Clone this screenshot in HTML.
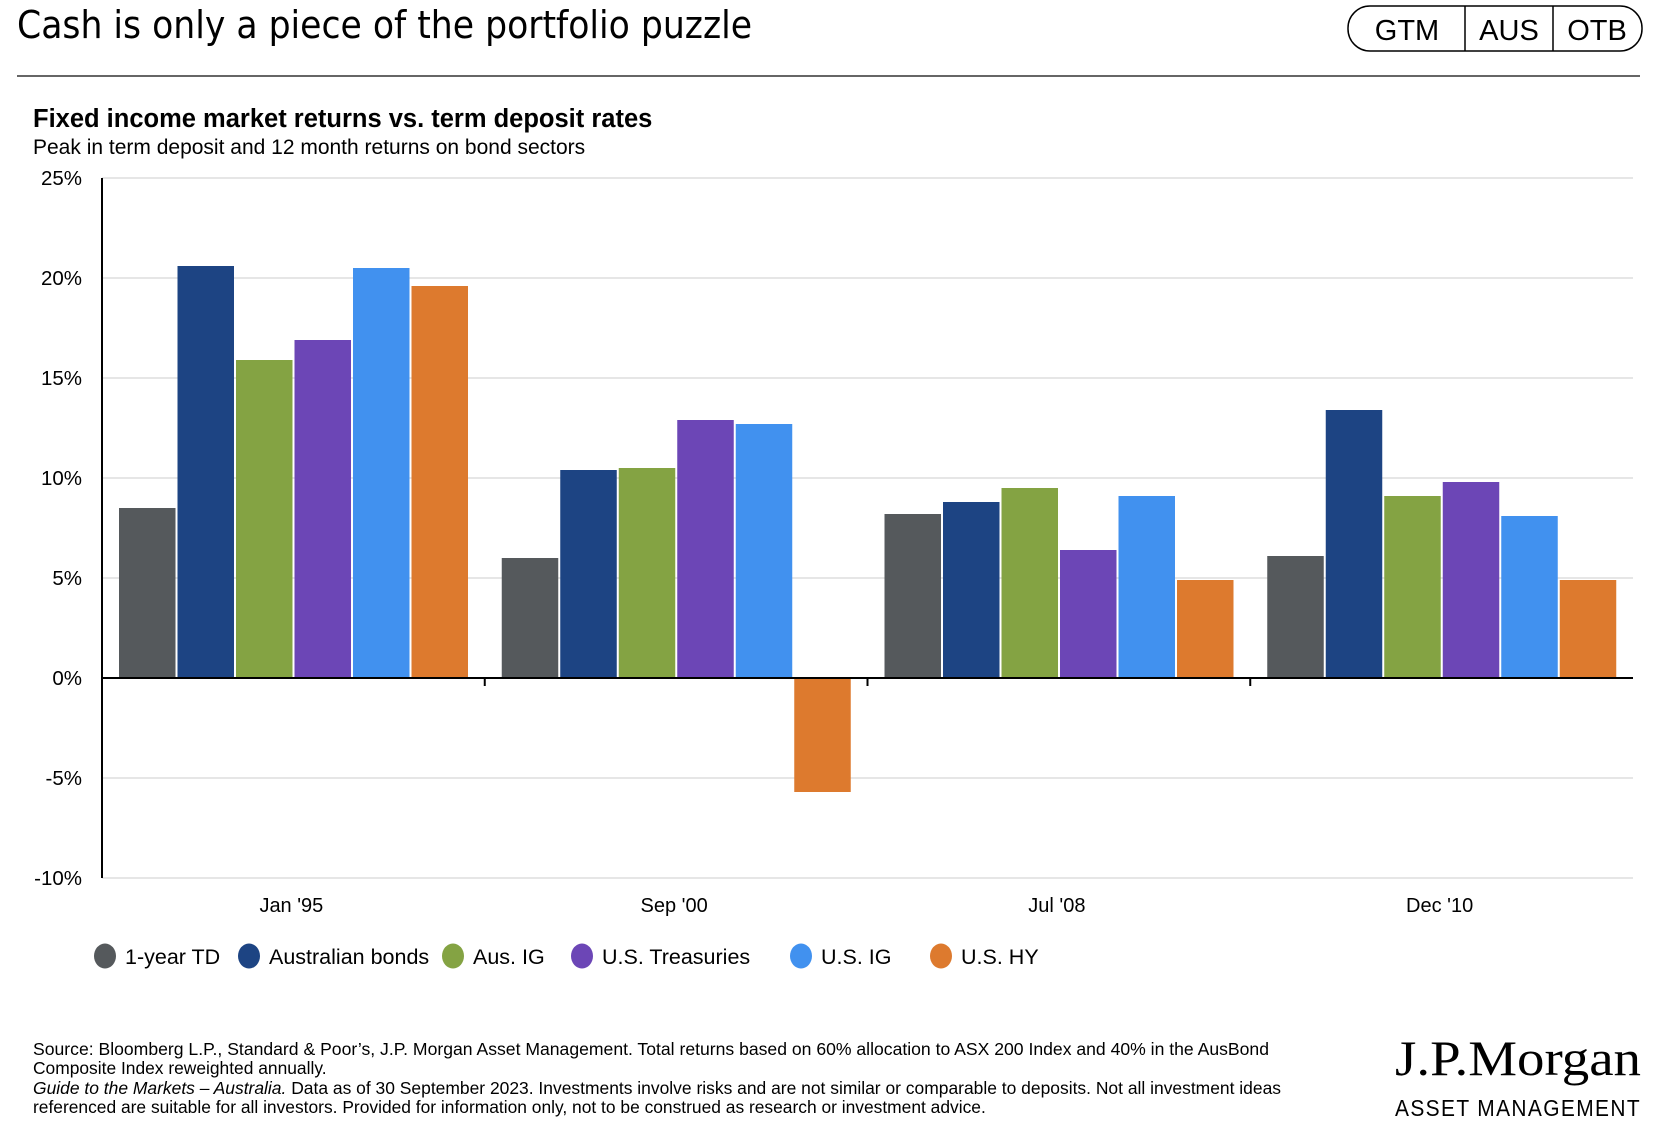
<!DOCTYPE html>
<html><head><meta charset="utf-8"><style>
body{margin:0;background:#fff;}
svg{display:block;font-family:"Liberation Sans",Arial,sans-serif;}
</style></head><body>
<svg id="chart" width="1666" height="1146" viewBox="0 0 1666 1146">
<text x="17" y="38" font-family="DejaVu Sans Condensed,DejaVu Sans,sans-serif" font-size="38.5" fill="#000">Cash is only a piece of the portfolio puzzle</text>
<g>
<rect x="1348" y="6" width="294" height="45" rx="22" fill="#fff" stroke="#000" stroke-width="1.5"/>
<line x1="1465" y1="6" x2="1465" y2="51" stroke="#000" stroke-width="1.5"/>
<line x1="1553" y1="6" x2="1553" y2="51" stroke="#000" stroke-width="1.5"/>
<text x="1407" y="40" text-anchor="middle" font-size="29">GTM</text>
<text x="1509" y="40" text-anchor="middle" font-size="29">AUS</text>
<text x="1597" y="40" text-anchor="middle" font-size="29">OTB</text>
</g>
<line x1="17" y1="76" x2="1640" y2="76" stroke="#666" stroke-width="2"/>
<text x="33" y="127" font-size="25.5" font-weight="bold">Fixed income market returns vs. term deposit rates</text>
<text x="33" y="154" font-size="21">Peak in term deposit and 12 month returns on bond sectors</text>
<g id="grid"></g><g id="bars"></g><g id="axes"></g><g id="legend"></g>
<g font-size="17.4" fill="#000">
<text x="33" y="1055" textLength="1236" lengthAdjust="spacingAndGlyphs">Source: Bloomberg L.P., Standard &amp; Poor’s, J.P. Morgan Asset Management. Total returns based on 60% allocation to ASX 200 Index and 40% in the AusBond</text>
<text x="33" y="1074">Composite Index reweighted annually.</text>
<text x="33" y="1094" textLength="1248" lengthAdjust="spacingAndGlyphs"><tspan font-style="italic">Guide to the Markets – Australia.</tspan> Data as of 30 September 2023. Investments involve risks and are not similar or comparable to deposits. Not all investment ideas</text>
<text x="33" y="1113">referenced are suitable for all investors. Provided for information only, not to be construed as research or investment advice.</text>
</g>
<g>
<text x="1641" y="1075" text-anchor="end" font-family="Liberation Serif,serif" font-size="50" textLength="246" lengthAdjust="spacingAndGlyphs">J.P.Morgan</text>
<text x="1641" y="1116" text-anchor="end" font-size="23" letter-spacing="1.5" textLength="246" lengthAdjust="spacingAndGlyphs">ASSET MANAGEMENT</text>
</g>
</svg>
<script>
const categories=["Jan '95","Sep '00","Jul '08","Dec '10"];
const seriesNames=["1-year TD","Australian bonds","Aus. IG","U.S. Treasuries","U.S. IG","U.S. HY"];
const td=[8.5,6.0,8.2,6.1];
const ausBonds=[20.6,10.4,8.8,13.4];
const ausIG=[15.9,10.5,9.5,9.1];
const usTreasuries=[16.9,12.9,6.4,9.8];
const usIG=[20.5,12.7,9.1,8.1];
const usHY=[19.6,-5.7,4.9,4.9];
const yTicks=[25,20,15,10,5,0,-5,-10];
const yTickLabels=["25%","20%","15%","10%","5%","0%","-5%","-10%"];
const series=[td,ausBonds,ausIG,usTreasuries,usIG,usHY];
const colors=["#55595c","#1d4483","#84a343","#6c46b6","#4191ef","#dd7a2e"];
const NS="http://www.w3.org/2000/svg";
const L=102,R=1633,yTop=178,yBot=878,vMax=25,vMin=-10;
const y=v=>yTop+(vMax-v)/(vMax-vMin)*(yBot-yTop);
const gw=(R-L)/categories.length;
const x=(g,s)=>L+g*gw+17+s*58.5;
function mk(t,a,p){const e=document.createElementNS(NS,t);for(const k in a)e.setAttribute(k,a[k]);p.appendChild(e);return e;}
const grid=document.getElementById('grid'),bars=document.getElementById('bars'),axes=document.getElementById('axes'),leg=document.getElementById('legend');
yTicks.forEach((v,i)=>{
 if(v!==0){const l=mk('line',{x1:L,x2:R,y1:y(v),y2:y(v),stroke:'#ccc','stroke-width':1},grid);
 
 }
 const t=mk('text',{x:82,y:y(v)+7,'text-anchor':'end','font-size':20.5},axes);t.textContent=yTickLabels[i];
 
 
});
series.forEach((vals,s)=>vals.forEach((v,g)=>{
 const r=mk('rect',{x:x(g,s),y:Math.min(y(v),y(0)),width:56.5,height:Math.abs(y(v)-y(0)),fill:colors[s]},bars);
 
 
}));
const ya=mk('line',{x1:L,x2:L,y1:yTop,y2:yBot,stroke:'#000','stroke-width':2},axes);


const xa=mk('line',{x1:L,x2:R,y1:y(0),y2:y(0),stroke:'#000','stroke-width':2},axes);


categories.forEach((c,g)=>{
 if(g>0){const tk=mk('line',{x1:L+g*gw,x2:L+g*gw,y1:y(0),y2:y(0)+8,stroke:'#000','stroke-width':2},axes);
 
 }
 const t=mk('text',{x:L+g*gw+gw/2-2,y:912,'text-anchor':'middle','font-size':20},axes);t.textContent=c;
 
 
});
const lx=[105,249,453,582,801,941];
seriesNames.forEach((n,i)=>{
 const g=mk('g',{},leg);
 
 
 mk('ellipse',{cx:lx[i],cy:956,rx:11,ry:12.5,fill:colors[i]},g);
 const t=mk('text',{x:lx[i]+20,y:964,'font-size':21.5},g);t.textContent=n;
});
</script>
</body></html>
